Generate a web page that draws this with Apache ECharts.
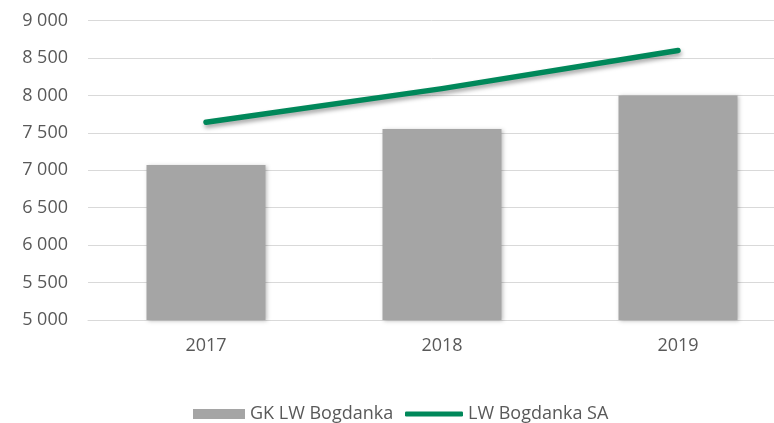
<!DOCTYPE html>
<html>
<head>
<meta charset="utf-8">
<script src="https://cdn.jsdelivr.net/npm/echarts@6/dist/echarts.min.js"></script>
<style>
  html, body { margin: 0; padding: 0; background: #fff; }
  #chart { width: 774px; height: 423px; }
</style>
</head>
<body>
<div id="chart"></div>
<script>
// Years on the category axis
const years = ['2017', '2018', '2019'];
// Group (GK LW Bogdanka) values
const groupValues = [7070, 7550, 8000];
// Parent company (LW Bogdanka SA) values
const companyValues = [7640, 8090, 8600];
// Value axis range
const yMin = 5000;
const yMax = 9000;
const yStep = 500;

const seriesNames = ['GK LW Bogdanka', 'LW Bogdanka SA'];
const textColor = '#595959';
const green = '#00885A';
const fontFamily = '"Open Sans", "Noto Sans", sans-serif';

function spaced(v) {
  return String(v).replace(/\B(?=(\d{3})+(?!\d))/g, ' ');
}

const chart = echarts.init(document.getElementById('chart'), null, { renderer: 'canvas' });
chart.setOption({
  animation: false,
  backgroundColor: '#ffffff',
  // plot area runs past the right edge of the canvas
  grid: {
    left: 88, width: 708, top: 20.5, height: 299.5,
    containLabel: false, outerBoundsMode: 'none'
  },
  legend: [
    {
      data: [seriesNames[0]],
      left: 188, top: 400,
      icon: 'rect', itemWidth: 52, itemHeight: 10,
      textStyle: { color: textColor, fontSize: 18, fontFamily: fontFamily }
    },
    {
      data: [{ name: seriesNames[1], icon: 'roundRect', itemStyle: { color: green } }],
      left: 400, top: 400,
      itemWidth: 58, itemHeight: 5,
      textStyle: { color: textColor, fontSize: 18, fontFamily: fontFamily }
    }
  ],
  xAxis: {
    type: 'category',
    data: years,
    axisLine: { show: true, lineStyle: { color: '#D9D9D9', width: 1 } },
    axisTick: { show: false },
    axisLabel: { color: textColor, fontSize: 18, fontFamily: fontFamily, margin: 17 }
  },
  yAxis: {
    type: 'value',
    min: yMin, max: yMax, interval: yStep,
    axisLine: { show: false },
    axisTick: { show: false },
    splitLine: { lineStyle: { color: '#D9D9D9', width: 1 } },
    axisLabel: {
      color: textColor, fontSize: 18, fontFamily: fontFamily, margin: 20,
      formatter: spaced
    }
  },
  series: [
    {
      name: seriesNames[0],
      type: 'bar',
      data: groupValues,
      barWidth: 119,
      itemStyle: {
        color: '#A5A5A5',
        shadowColor: 'rgba(0,0,0,0.25)', shadowBlur: 4, shadowOffsetX: 1, shadowOffsetY: 1
      }
    },
    {
      name: seriesNames[1],
      type: 'line',
      data: companyValues,
      symbol: 'none',
      lineStyle: {
        color: green, width: 5.5, cap: 'round', join: 'round',
        shadowColor: 'rgba(0,0,0,0.35)', shadowBlur: 4, shadowOffsetY: 3, shadowOffsetX: 1
      },
      itemStyle: { color: green },
      z: 3
    }
  ]
});
</script>
</body>
</html>
